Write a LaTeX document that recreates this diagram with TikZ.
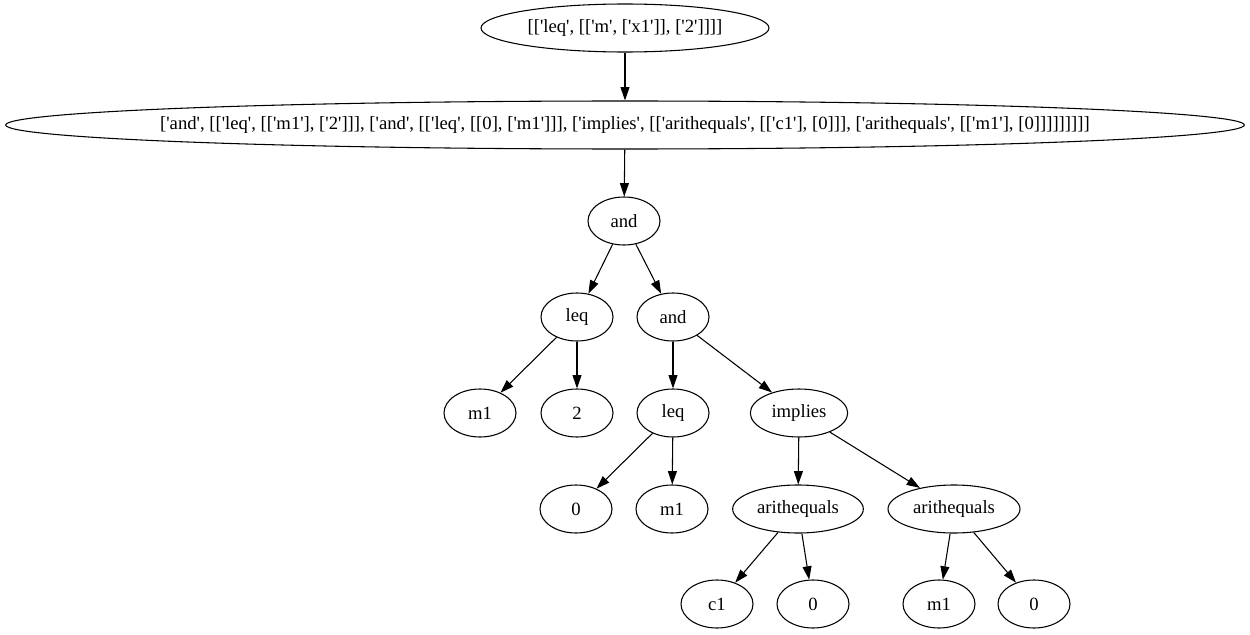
\documentclass[tikz,border=0pt]{standalone}
\usepackage{fontspec}
\setmainfont{Liberation Serif}[Ligatures=TeXOff]
\usetikzlibrary{shapes.geometric,arrows.meta}
\begin{document}
\begin{tikzpicture}[x=0.75pt,y=-0.75pt,
  tn/.style={ellipse,draw,line width=0.8pt,inner sep=0pt,minimum width=54pt,minimum height=36pt,font=\fontsize{14}{16}\selectfont},
  tx/.style={inner sep=0pt,font=\fontsize{14}{16}\selectfont},
  edge/.style={draw,line width=0.8pt,-{Triangle[length=10pt,width=6.7pt]}}]
\useasboundingbox (0,0) rectangle (1250,635);
\node[tn,minimum width=216pt] (r) at (625,28) {[['leq', [['m', ['x1']], ['2']]]]};
\node[tn,minimum width=929pt] (s) at (625,125) {};
\node[tx] (st) at (s) {['and', [['leq', [['m1'], ['2']]], ['and', [['leq', [[0], ['m1']]], ['implies', [['arithequals', [['c1'], [0]]], ['arithequals', [['m1'], [0]]]]]]]]]};
\node[tn] (a1) at (624,221) {and};
\node[tn] (l1) at (577,317) {leq};
\node[tn] (a2) at (673,317) {and};
\node[tn] (m1) at (480,413) {m1};
\node[tn] (n2) at (577,413) {2};
\node[tn] (l2) at (673,413) {leq};
\node[tn,minimum width=73pt] (im) at (799,413) {implies};
\node[tn] (z1) at (576,509) {0};
\node[tn] (m2) at (672,509) {m1};
\node[tn,minimum width=98pt] (e1) at (798,509) {arithequals};
\node[tn,minimum width=99pt] (e2) at (954,509) {arithequals};
\node[tn] (c1) at (717,604) {c1};
\node[tn] (z2) at (813,604) {0};
\node[tn] (m3) at (939,604) {m1};
\node[tn] (z3) at (1034,604) {0};
\draw[edge] (r) -- (s);
\draw[edge] (s) -- (a1);
\draw[edge] (a1) -- (l1);
\draw[edge] (a1) -- (a2);
\draw[edge] (l1) -- (m1);
\draw[edge] (l1) -- (n2);
\draw[edge] (a2) -- (l2);
\draw[edge] (a2) -- (im);
\draw[edge] (l2) -- (z1);
\draw[edge] (l2) -- (m2);
\draw[edge] (im) -- (e1);
\draw[edge] (im) -- (e2);
\draw[edge] (e1) -- (c1);
\draw[edge] (e1) -- (z2);
\draw[edge] (e2) -- (m3);
\draw[edge] (e2) -- (z3);
\end{tikzpicture}
\end{document}
